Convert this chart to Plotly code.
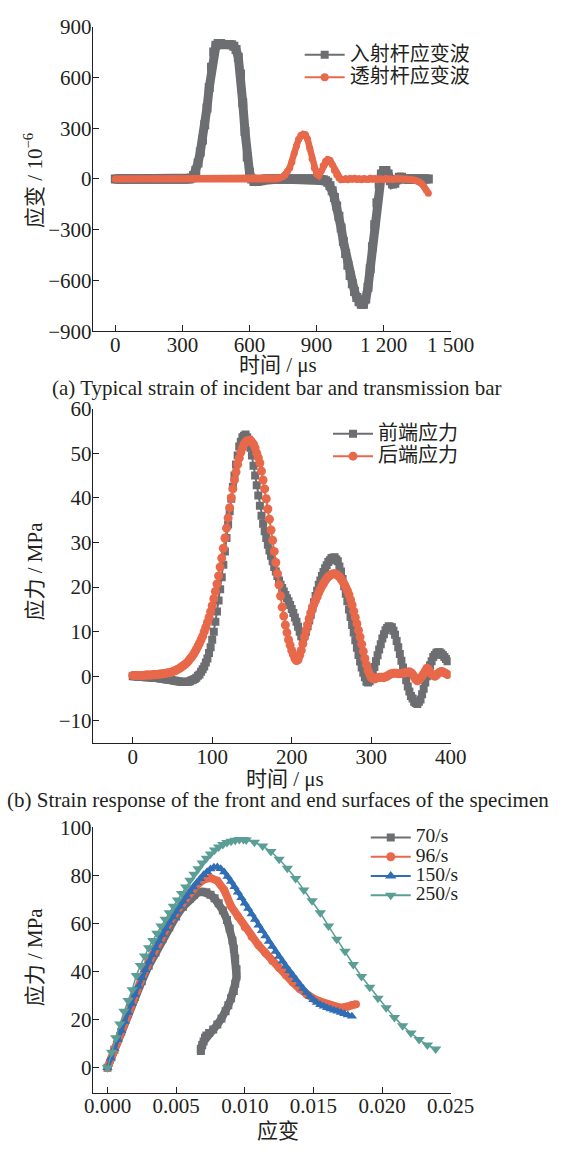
import plotly.graph_objects as go

W, H = 571, 1158
FONT = "Liberation Serif, Noto Sans CJK SC, serif"
TXT = "#231f20"
GRAY = "#6d6e72"
ORANGE = "#e8684a"
BLUE = "#2f6db5"
TEAL = "#5b9e96"

# ---------------- (a) incident / transmitted strain, sampled every 10 us ----------------
A_STEP = 10
INCIDENT = [0] * 34 + [
    5, 20, 50, 95, 160, 230, 320, 420, 540, 660, 750, 790, 800, 800, 795, 793, 795, 795, 793, 785,
    765, 720, 620, 450, 280, 130, 40, 0, -15, -15, -12, -10, -5, 0] + [0] * 23 + [
    0, -3, -5, -10, -20, -40, -70, -110, -160, -220, -290, -370, -440, -510, -570, -620, -665, -700,
    -725, -740, -740, -710, -640, -530, -400, -270, -140, -30, 30, 50, 50, 30, -10, -30, -25, -5,
    10, 10, 0] + [0] * 11
TRANSMIT = [0] * 73 + [
    3, 8, 15, 25, 45, 65, 100, 150, 195, 235, 258, 265, 262, 235, 180, 120, 65, 30, 20, 45, 80, 105,
    115, 110, 85, 50, 25, 5, -5, -3, 2, -4, 3, -2, 4, -3, 2, -4, 3, 0, -3, 4, -2, 3, -4, 2, 0, -3,
    3, -2, 2, -3, 0, 3, -2, 1, -1, 0, -2, -3, -5, -8, -12, -18, -28, -45, -65, -85]
A_XTICKS = [0, 300, 600, 900, 1200, 1500]
A_XTEXT = ["0", "300", "600", "900", "1 200", "1 500"]
A_YTICKS = [-900, -600, -300, 0, 300, 600, 900]

# ---------------- (b) front / end stress, sampled every 2 us ----------------
B_STEP = 2
FRONT = [
    0, 0, 0, -0.1, -0.1, -0.1, -0.1, -0.1, -0.2, -0.2, -0.2, -0.2, -0.3, -0.3, -0.4, -0.4, -0.4, -0.5,
    -0.5, -0.6, -0.6, -0.7, -0.7, -0.8, -0.8, -0.9, -1.0, -1.0, -1.1, -1.1, -1.2, -1.2, -1.3, -1.3,
    -1.2, -1.2, -1.1, -0.9, -0.8, -0.6, -0.3, 0.1, 0.4, 1.0, 1.6, 2.2, 3.1, 4.0, 5.2, 6.5, 8.2, 10.0,
    12.2, 14.5, 17.0, 19.5, 22.2, 25.0, 28.0, 31.0, 34.0, 37.0, 39.8, 42.5, 45.0, 47.5, 49.5, 51.5,
    52.6, 53.6, 53.9, 54.2, 53.6, 53.0, 51.2, 49.5, 47.2, 45.0, 42.8, 40.5, 38.2, 36.0, 34.2, 32.5,
    31.0, 29.5, 28.2, 27.0, 25.8, 24.5, 23.5, 22.5, 21.5, 20.5, 19.8, 19.0, 18.2, 17.5, 16.8, 16.0,
    15.1, 14.2, 13.2, 12.2, 11.1, 10.0, 9.0, 8.6, 9.0, 10.0, 11.2, 12.5, 13.8, 15.2, 16.6, 18.0,
    19.2, 20.5, 21.5, 22.5, 23.4, 24.2, 24.9, 25.6, 26.0, 26.5, 26.6, 26.7, 26.2, 25.8, 24.6, 23.5,
    21.8, 20.2, 18.5, 16.8, 15.0, 13.3, 11.5, 9.8, 8.1, 6.4, 4.8, 3.3, 2.0, 0.8, -0.2, -1.2, -1.4,
    -1.1, -0.1, 0.8, 2.1, 3.4, 4.7, 6.0, 7.2, 8.5, 9.4, 10.3, 10.8, 11.2, 11.1, 11.0, 10.2, 9.3, 7.9,
    6.5, 5.0, 3.5, 2.0, 0.5, -0.9, -2.3, -3.4, -4.4, -5.0, -5.7, -6.0, -6.2, -5.7, -5.2, -4.0, -2.8,
    -1.4, 0.0, 1.2, 2.5, 3.4, 4.3, 4.8, 5.3, 5.4, 5.4, 5.1, 4.8, 4.3, 3.9, 3.4]
BACK = [
    0.2, 0.2, 0.2, 0.2, 0.2, 0.2, 0.2, 0.2, 0.3, 0.3, 0.3, 0.3, 0.3, 0.4, 0.4, 0.4, 0.4, 0.5, 0.5,
    0.6, 0.6, 0.7, 0.8, 0.8, 0.9, 1.0, 1.2, 1.3, 1.5, 1.7, 1.9, 2.2, 2.4, 2.7, 3.0, 3.4, 3.9, 4.3,
    4.8, 5.4, 6.0, 6.7, 7.4, 8.2, 9.0, 10.0, 11.0, 12.1, 13.2, 14.5, 15.8, 17.4, 19.0, 20.7, 22.5,
    24.5, 26.5, 28.7, 31.0, 33.2, 35.5, 37.8, 40.0, 42.0, 44.0, 45.8, 47.5, 48.9, 50.2, 51.2, 52.0,
    52.5, 52.8, 52.9, 52.9, 52.5, 52.0, 51.2, 50.0, 49.0, 47.8, 46.0, 44.0, 42.0, 39.8, 37.5, 35.2,
    32.8, 30.5, 28.0, 25.5, 23.0, 20.5, 18.0, 15.5, 13.5, 11.5, 9.8, 8.2, 7.0, 5.8, 4.9, 4.0, 3.5,
    3.7, 4.7, 5.8, 7.3, 8.8, 10.2, 11.5, 12.9, 14.2, 15.2, 16.2, 17.0, 17.8, 18.7, 19.5, 20.2, 20.8,
    21.4, 21.9, 22.3, 22.6, 22.8, 23.0, 23.0, 22.9, 22.6, 22.3, 21.8, 21.3, 20.7, 20.0, 19.2, 18.3,
    17.2, 16.0, 14.6, 13.2, 11.8, 10.3, 8.8, 7.2, 5.6, 4.0, 2.6, 1.3, 0.5, -0.3, -0.5, -0.6, -0.4,
    -0.3, -0.2, -0.2, -0.2, -0.3, -0.1, 0.0, 0.3, 0.5, 0.6, 0.7, 0.7, 0.7, 0.6, 0.6, 0.6, 0.7, 0.8,
    0.8, 0.9, 1.0, 0.8, 0.5, -0.1, -0.7, -1.0, -0.8, -0.4, 0.0, 0.6, 1.2, 1.8, 1.6, 1.0, 0.5, 0.2,
    0.0, 0.3, 0.6, 0.9, 1.1, 1.0, 0.8, 0.6, 0.4]
B_XTICKS = [0, 100, 200, 300, 400]
B_YTICKS = [-10, 0, 10, 20, 30, 40, 50, 60]

# ---------------- (c) stress-strain curves ----------------
R70_STRAIN = [0, 0.0005, 0.001, 0.0015, 0.002, 0.0025, 0.003, 0.0035, 0.004, 0.0045, 0.005, 0.0055,
              0.006, 0.0063, 0.0066, 0.0069, 0.0072, 0.0075, 0.0078, 0.0081, 0.0084, 0.0087, 0.0089,
              0.0091, 0.0092, 0.0093, 0.0094, 0.0094, 0.0093, 0.0092, 0.009, 0.0088, 0.0086, 0.0083,
              0.008, 0.0077, 0.0074, 0.0072, 0.0071, 0.007, 0.0069, 0.0068, 0.0068]
R70_STRESS = [0, 7.5, 15, 22.5, 29.5, 36, 42.5, 48, 53.5, 58.5, 63, 67, 70.3, 72, 73, 73.3, 73, 72,
              70.5, 68.5, 65.5, 61.5, 58, 53, 49.5, 45.5, 41, 38, 35, 32, 29, 26, 23.5, 20.5, 18, 16,
              14.5, 13.5, 12.5, 11, 9.5, 8, 7]
R96_STRAIN = [0, 0.0005, 0.001, 0.0015, 0.002, 0.0025, 0.003, 0.0035, 0.004, 0.0045, 0.005, 0.0055,
              0.006, 0.0065, 0.007, 0.0075, 0.008, 0.0085, 0.009, 0.0095, 0.01, 0.0105, 0.011, 0.0115,
              0.012, 0.0125, 0.013, 0.0135, 0.014, 0.0145, 0.015, 0.0155, 0.016, 0.0165, 0.017,
              0.0175, 0.0178, 0.0181]
R96_STRESS = [0, 8, 15.5, 23, 30.5, 37.5, 44, 50, 55.5, 60.5, 65, 69, 72.8, 76, 78.3, 79, 77.8, 74,
              67.2, 63, 58.5, 54.5, 51, 47.8, 44.5, 41.5, 38.5, 35.5, 32.8, 30.5, 28.8, 27.6, 26.5,
              25.5, 25, 25.5, 26.2, 26.5]
R150_STRAIN = [0, 0.00025, 0.0005, 0.00075, 0.001, 0.00125, 0.0015, 0.00175, 0.002, 0.00225, 0.0025,
               0.00275, 0.003, 0.00325, 0.0035, 0.00375, 0.004, 0.00425, 0.0045, 0.00475, 0.005,
               0.00525, 0.0055, 0.00575, 0.006, 0.00625, 0.0065, 0.00675, 0.007, 0.00725, 0.0075,
               0.00775, 0.008, 0.00825, 0.0085, 0.00875, 0.009, 0.00925, 0.0095, 0.00975, 0.01,
               0.01025, 0.0105, 0.01075, 0.011, 0.01125, 0.0115, 0.01175, 0.012, 0.01225, 0.0125,
               0.01275, 0.013, 0.01325, 0.0135, 0.01375, 0.014, 0.01425, 0.0145, 0.01475, 0.015,
               0.01525, 0.0155, 0.01575, 0.016, 0.01625, 0.0165, 0.01675, 0.017, 0.01725, 0.0175,
               0.0178]
R150_STRESS = [0, 4, 8, 11.8, 15.5, 19.3, 23, 26.8, 30.5, 34, 37.5, 40.8, 44, 47, 50, 52.8, 55.5, 58,
               60.5, 62.8, 65, 67.2, 69.3, 71.3, 73.3, 75.2, 77, 78.7, 80.3, 81.6, 82.7, 83.4, 83.5,
               82.8, 81.5, 79.6, 77.5, 75.3, 73, 70.8, 68.5, 66.3, 64, 61.7, 59.3, 57, 54.8, 52.6,
               50.5, 48.4, 46.3, 44.3, 42.3, 40.4, 38.5, 36.6, 34.8, 33, 31.3, 29.7, 28.3, 27.2, 26.3,
               25.6, 25, 24.5, 24, 23.5, 23, 22.5, 22, 21.5]
R250_STRAIN = [0, 0.0003, 0.0006, 0.0009, 0.0012, 0.0015, 0.0018, 0.0021, 0.0024, 0.0027, 0.003,
               0.0033, 0.0036, 0.0039, 0.0042, 0.0045, 0.0048, 0.0051, 0.0054, 0.0057, 0.006, 0.0063,
               0.0066, 0.0069, 0.0072, 0.0075, 0.0078, 0.0081, 0.0084, 0.0087, 0.009, 0.0093, 0.0096,
               0.0099, 0.0101, 0.0107, 0.0113, 0.0119, 0.0125, 0.0131, 0.0137, 0.0143, 0.0149,
               0.0155, 0.0161, 0.0167, 0.0173, 0.0179, 0.0185, 0.0191, 0.0197, 0.0203, 0.0209,
               0.0215, 0.0221, 0.0227, 0.0233, 0.0239]
R250_STRESS = [0, 6.5, 12.5, 18.2, 23.5, 28, 32.5, 38.4, 42.6, 46.5, 50, 53, 56, 59, 61.8, 64.5,
               67.2, 69.8, 72.5, 75.2, 78, 80.5, 82.8, 85.2, 87.2, 89, 90.6, 91.9, 92.9, 93.7, 94.3,
               94.7, 95, 95, 94.8, 93.8, 92.3, 90, 86.8, 83, 78.8, 74, 69.5, 64.5, 59, 53.5, 48.5,
               43, 38, 33.5, 29, 25, 21, 17.5, 14.5, 11.8, 9.5, 7.8]
C_XTICKS = [0, 0.005, 0.01, 0.015, 0.02, 0.025]
C_YTICKS = [0, 20, 40, 60, 80, 100]

# ---------------- layout geometry (pixels) ----------------
PX_L, PX_R = 90, 469
A_TOP, A_BOT = 15, 326
B_TOP, B_BOT = 405, 746.7
C_TOP, C_BOT = 832.7, 1104


def px(x):
    return x / W


def py(y):
    return 1 - y / H


fig = go.Figure()

# (a)
tA = [A_STEP * i for i in range(len(INCIDENT))]
tA2 = [A_STEP * i for i in range(len(TRANSMIT))]
fig.add_trace(go.Scatter(x=tA, y=INCIDENT, mode="lines+markers", xaxis="x", yaxis="y",
                         line=dict(color=GRAY, width=9), marker=dict(symbol="square", size=9, color=GRAY),
                         showlegend=False))
fig.add_trace(go.Scatter(x=tA2, y=TRANSMIT, mode="lines+markers", xaxis="x", yaxis="y",
                         line=dict(color=ORANGE, width=6.5), marker=dict(symbol="circle", size=7, color=ORANGE),
                         showlegend=False))
# (b)
tB = [B_STEP * i for i in range(len(FRONT))]
tB2 = [B_STEP * i for i in range(len(BACK))]
fig.add_trace(go.Scatter(x=tB, y=FRONT, mode="lines+markers", xaxis="x2", yaxis="y2",
                         line=dict(color=GRAY, width=2), marker=dict(symbol="square", size=8, color=GRAY),
                         showlegend=False))
fig.add_trace(go.Scatter(x=tB2, y=BACK, mode="lines+markers", xaxis="x2", yaxis="y2",
                         line=dict(color=ORANGE, width=2), marker=dict(symbol="circle", size=9, color=ORANGE),
                         showlegend=False))
# (c)
fig.add_trace(go.Scatter(x=R70_STRAIN, y=R70_STRESS, mode="lines+markers", xaxis="x3", yaxis="y3",
                         line=dict(color=GRAY, width=8), marker=dict(symbol="square", size=8, color=GRAY),
                         showlegend=False))
fig.add_trace(go.Scatter(x=R96_STRAIN, y=R96_STRESS, mode="lines+markers", xaxis="x3", yaxis="y3",
                         line=dict(color=ORANGE, width=8), marker=dict(symbol="circle", size=8, color=ORANGE),
                         showlegend=False))
fig.add_trace(go.Scatter(x=R150_STRAIN, y=R150_STRESS, mode="lines+markers", xaxis="x3", yaxis="y3",
                         line=dict(color=BLUE, width=4), marker=dict(symbol="triangle-up", size=9, color=BLUE),
                         showlegend=False))
fig.add_trace(go.Scatter(x=R250_STRAIN, y=R250_STRESS, mode="lines+markers", xaxis="x3", yaxis="y3",
                         line=dict(color=TEAL, width=1.5), marker=dict(symbol="triangle-down", size=10, color=TEAL),
                         showlegend=False))

# legend entries (no data)
for name, col, sym, sz, leg, xa, ya, fs in [
    ("入射杆应变波", GRAY, "square", 8, "legend", "x", "y", 20),
    ("透射杆应变波", ORANGE, "circle", 8, "legend", "x", "y", 20),
    ("前端应力", GRAY, "square", 8, "legend2", "x2", "y2", 20),
    ("后端应力", ORANGE, "circle", 9, "legend2", "x2", "y2", 20),
    ("70/s", GRAY, "square", 8, "legend3", "x3", "y3", 19.5),
    ("96/s", ORANGE, "circle", 9, "legend3", "x3", "y3", 19.5),
    ("150/s", BLUE, "triangle-up", 10, "legend3", "x3", "y3", 19.5),
    ("250/s", TEAL, "triangle-down", 10, "legend3", "x3", "y3", 19.5),
]:
    fig.add_trace(go.Scatter(x=[None], y=[None], mode="lines+markers",
                             name="<span style='font-size:%spx'>%s</span>" % (fs, name),
                             xaxis=xa, yaxis=ya, legend=leg,
                             line=dict(color=col, width=2), marker=dict(symbol=sym, size=sz, color=col)))

ax_common = dict(showline=True, linecolor="#231f20", linewidth=1.3, ticks="inside", ticklen=6,
                 tickwidth=1.3, tickcolor="#231f20", showgrid=False, zeroline=False, mirror=False,
                 tickfont=dict(family=FONT, size=21, color=TXT))
x_common = dict(ax_common, ticklabelstandoff=-6)
y_common = dict(ax_common, ticklabelstandoff=-4)

leg_common = dict(xanchor="left", yanchor="top", bgcolor="rgba(0,0,0,0)", borderwidth=0,
                  font=dict(family=FONT, size=15, color=TXT), itemwidth=40, tracegroupgap=0)

fig.update_layout(
    width=W, height=H, margin=dict(l=0, r=0, t=0, b=0),
    paper_bgcolor="white", plot_bgcolor="white",
    font=dict(family=FONT, color=TXT),
    xaxis=dict(domain=[px(PX_L), px(PX_R)], range=[-100, 1500], anchor="y",
               tickvals=A_XTICKS, ticktext=A_XTEXT, **x_common),
    yaxis=dict(domain=[py(A_BOT), py(A_TOP)], range=[-900, 900], anchor="x", tickvals=A_YTICKS, **y_common),
    xaxis2=dict(domain=[px(PX_L), px(PX_R)], range=[-50, 400], anchor="y2", tickvals=B_XTICKS, **x_common),
    yaxis2=dict(domain=[py(B_BOT), py(B_TOP)], range=[-15, 60], anchor="x2", tickvals=B_YTICKS, **y_common),
    xaxis3=dict(domain=[px(PX_L), px(PX_R)], range=[-0.00106, 0.025], anchor="y3", tickvals=C_XTICKS,
                tickformat=".3f", **x_common),
    yaxis3=dict(domain=[py(C_BOT), py(C_TOP)], range=[-10.5, 100], anchor="x3", tickvals=C_YTICKS, **y_common),
    legend=dict(x=px(309), y=py(27), **leg_common),
    legend2=dict(x=px(339), y=py(414), **leg_common),
    legend3=dict(x=px(379), y=py(828), **dict(leg_common, font=dict(family=FONT, size=12.5, color=TXT))),
)


def ann(text, x, y, size=21, angle=0):
    fig.add_annotation(text=text, x=px(x), y=py(y), xref="paper", yref="paper", showarrow=False,
                       xanchor="center", yanchor="middle", textangle=angle,
                       font=dict(family=FONT, size=size, color=TXT))


ann("时间 / μs", 286, 360)
ann("(a) Typical strain of incident bar and transmission bar", 285, 384, size=21)
ann("应变 / 10<sup>−6</sup>", 27, 172, angle=-90)
ann("时间 / μs", 293, 783)
ann("(b) Strain response of the front and end surfaces of the specimen", 286, 805, size=21)
ann("应力 / MPa", 29, 571, angle=-90)
ann("应变", 286, 1143)
ann("应力 / MPa", 29, 965, angle=-90)

fig.write_html("out.html")
